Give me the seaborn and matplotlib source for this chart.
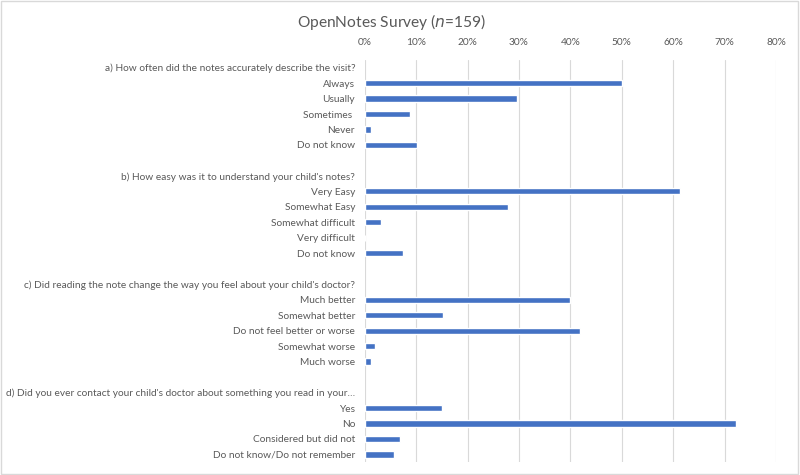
import matplotlib
matplotlib.use('Agg')

import numpy as np
import pandas as pd
import seaborn as sns
import matplotlib.pyplot as plt


questions = [
    "a) How often did the notes accurately describe the visit?",
    "b) How easy was it to understand your child's notes?",
    "c) Did reading the note change the way you feel about your child's doctor?",
    "d) Did you ever contact your child's doctor about something you read in your\u2026",
]

answers_a = ["Always", "Usually", "Sometimes ", "Never", "Do not know"]
values_a = [50.0, 29.7, 8.8, 1.2, 10.1]

answers_b = ["Very Easy", "Somewhat Easy", "Somewhat difficult", "Very difficult", "Do not know"]
values_b = [61.4, 27.9, 3.1, 0.0, 7.5]

answers_c = ["Much better", "Somewhat better", "Do not feel better or worse", "Somewhat worse", "Much worse"]
values_c = [39.9, 15.2, 41.8, 1.9, 1.2]

answers_d = ["Yes", "No", "Considered but did not", "Do not know/Do not remember"]
values_d = [15.1, 72.3, 6.9, 5.6]

groups = [(answers_a, values_a), (answers_b, values_b), (answers_c, values_c), (answers_d, values_d)]

labels = []
vals = []
for i, (q, (ans, v)) in enumerate(zip(questions, groups)):
    labels.append(q)
    vals.append(np.nan)
    labels += ans
    vals += v
    if i < len(questions) - 1:
        labels.append("")
        vals.append(np.nan)

df = pd.DataFrame({"row": [str(i) for i in range(len(labels))], "label": labels, "pct": vals})

sns.set_theme(style='white')
plt.rcParams['font.family'] = ['Lato', 'DejaVu Sans']

fig = plt.figure(figsize=(8, 4.75), dpi=100)
ax = fig.add_axes([0.456, 0.027, 0.514, 0.847])

sns.barplot(data=df, x='pct', y='row', order=df['row'], color='#4472C4', width=0.4,
            saturation=1, ax=ax)

ax.set_xlim(0, 80)
ax.set_xticks(range(0, 81, 10))
ax.set_xticklabels([f"{t}%" for t in range(0, 81, 10)])
ax.xaxis.tick_top()
ax.set_yticks(range(len(labels)))
ax.set_yticklabels(df['label'])
ax.set_xlabel('')
ax.set_ylabel('')
ax.tick_params(axis='both', length=0, labelsize=7.3, colors='#595959')
ax.tick_params(axis='x', pad=9)
ax.tick_params(axis='y', pad=7)
ax.grid(axis='x', color='#D9D9D9', linewidth=0.8)
ax.set_axisbelow(True)
for s in ax.spines.values():
    s.set_visible(False)

fig.text(0.49, 0.953, "OpenNotes Survey ($\\it{n}$=159)", fontsize=11.2, color='#595959',
         ha='center', va='center')

border = plt.Rectangle((0.001, 0.003), 0.997, 0.995, transform=fig.transFigure,
                       fill=False, edgecolor='#D9D9D9', linewidth=1)
fig.patches.append(border)

plt.savefig('out.png', dpi=100)
